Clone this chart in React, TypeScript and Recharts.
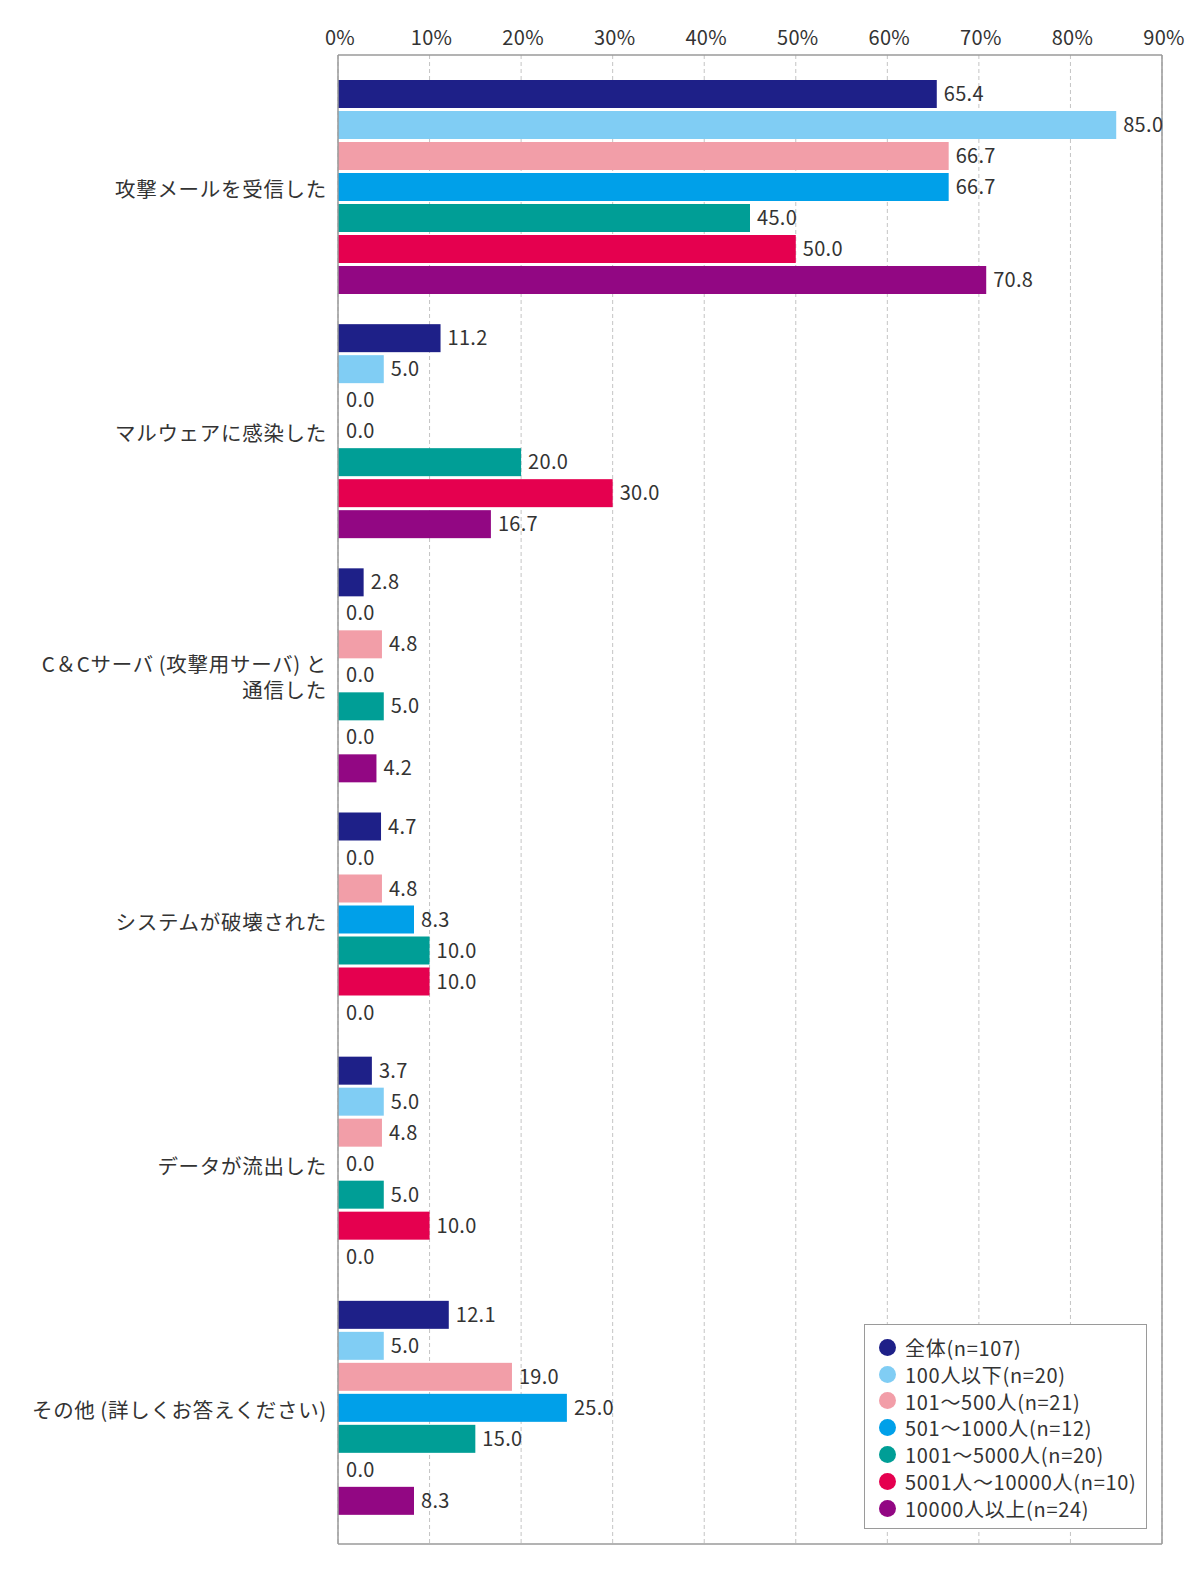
import React from "react";
import {
  BarChart,
  Bar,
  XAxis,
  YAxis,
  CartesianGrid,
  LabelList,
  Legend,
} from "recharts";

const categories = [
  "攻撃メールを受信した",
  "マルウェアに感染した",
  "C＆Cサーバ\u2009(攻撃用サーバ)\u2009と\n通信した",
  "システムが破壊された",
  "データが流出した",
  "その他\u2009(詳しくお答えください)",
];

const seriesNames = [
  "全体(n=107)",
  "100人以下(n=20)",
  "101～500人(n=21)",
  "501～1000人(n=12)",
  "1001～5000人(n=20)",
  "5001人～10000人(n=10)",
  "10000人以上(n=24)",
];

const seriesColors = [
  "#1e2088",
  "#80cdf4",
  "#f29ea8",
  "#00a0e9",
  "#009e96",
  "#e5004f",
  "#920783",
];

const valuesAll = [65.4, 11.2, 2.8, 4.7, 3.7, 12.1];
const values100 = [85.0, 5.0, 0.0, 0.0, 5.0, 5.0];
const values500 = [66.7, 0.0, 4.8, 4.8, 4.8, 19.0];
const values1000 = [66.7, 0.0, 0.0, 8.3, 0.0, 25.0];
const values5000 = [45.0, 20.0, 5.0, 10.0, 5.0, 15.0];
const values10000 = [50.0, 30.0, 0.0, 10.0, 10.0, 0.0];
const valuesOver = [70.8, 16.7, 4.2, 0.0, 0.0, 8.3];

const seriesValues = [
  valuesAll,
  values100,
  values500,
  values1000,
  values5000,
  values10000,
  valuesOver,
];

const xTicks = [0, 10, 20, 30, 40, 50, 60, 70, 80, 90];

const data = categories.map((name, i) => {
  const row: Record<string, number | string> = { name };
  seriesValues.forEach((vals, s) => {
    row[`s${s}`] = vals[i];
  });
  return row;
});

const FONT = '"Noto Sans CJK JP", "Noto Sans", sans-serif';
const TEXT = "#333333";
const BORDER = "#9a9a9a";

const CategoryTick = (props: any) => {
  const { x, y, payload } = props;
  const lines = String(payload.value).split("\n");
  const lh = 26;
  const start = y - ((lines.length - 1) * lh) / 2;
  return (
    <g>
      {lines.map((l, i) => (
        <text
          key={i}
          x={x}
          y={start + i * lh}
          textAnchor="end"
          dominantBaseline="central"
          fill={TEXT}
          fontSize={20.5}
          fontFamily={FONT}
          letterSpacing={0.7}
        >
          {l}
        </text>
      ))}
    </g>
  );
};

const PercentTick = (props: any) => {
  const { x, y, payload } = props;
  return (
    <text
      x={x + 2}
      y={y}
      textAnchor="middle"
      fill={TEXT}
      fontSize={20}
      fontFamily={FONT}
      letterSpacing={0.3}
    >
      {`${payload.value}%`}
    </text>
  );
};

const LegendBox = () => {
  return (
    <div
      style={{
        boxSizing: "border-box",
        width: 283,
        height: 205,
        border: `1.5px solid ${BORDER}`,
        background: "#fff",
        paddingTop: 9,
        fontFamily: FONT,
      }}
    >
      {seriesNames.map((n, i) => (
        <div
          key={n}
          style={{
            display: "flex",
            alignItems: "center",
            height: 26.8,
          }}
        >
          <div
            style={{
              width: 17,
              height: 17,
              borderRadius: "50%",
              background: seriesColors[i],
              marginLeft: 13.5,
              marginRight: 9.5,
              flexShrink: 0,
            }}
          />
          <span
            style={{
              fontSize: 20,
              color: TEXT,
              whiteSpace: "nowrap",
              letterSpacing: 0.7,
            }}
          >
            {n}
          </span>
        </div>
      ))}
    </div>
  );
};

const makeShape = (key: string) => (props: any) => {
  const v = props.payload ? Number(props.payload[key]) : 0;
  if (!(v > 0)) return <g />;
  return (
    <rect
      x={props.x}
      y={props.y}
      width={props.width}
      height={props.height}
      fill={props.fill}
    />
  );
};

export default function App() {
  return (
    <div style={{ width: 1184, height: 1587, fontFamily: FONT, position: "relative" }}>
      <BarChart
        width={1184}
        height={1587}
        data={data}
        layout="vertical"
        margin={{ top: 17, right: 29, bottom: 50, left: 0 }}
        barCategoryGap={14}
        barGap={3}
      >
        <CartesianGrid
          horizontal={false}
          stroke="#c4c4c4"
          strokeDasharray="4 3"
        />
        <XAxis
          type="number"
          orientation="top"
          domain={[0, 90]}
          ticks={xTicks}
          interval={0}
          height={30}
          tickSize={0}
          tickMargin={10}
          tick={<PercentTick />}
          axisLine={{ stroke: BORDER, strokeWidth: 1.5 }}
          tickLine={false}
        />
        <XAxis
          xAxisId="bottom"
          type="number"
          orientation="bottom"
          domain={[0, 90]}
          height={1}
          tick={false}
          tickLine={false}
          axisLine={{ stroke: BORDER, strokeWidth: 1.5 }}
        />
        <YAxis
          type="category"
          dataKey="name"
          width={330}
          tickSize={0}
          tickMargin={11}
          tick={<CategoryTick />}
          tickLine={false}
          interval={0}
          padding={{ top: 11, bottom: 13 }}
          axisLine={{ stroke: BORDER, strokeWidth: 1.5 }}
        />
        <YAxis
          yAxisId="right"
          type="category"
          dataKey="name"
          orientation="right"
          width={1}
          tick={false}
          tickLine={false}
          axisLine={{ stroke: BORDER, strokeWidth: 1.5 }}
        />
        <Legend
          layout="horizontal"
          verticalAlign="middle"
          align="center"
          content={<LegendBox />}
          wrapperStyle={{ position: "absolute", left: 856, top: 1316, width: 283, height: 205 }}
        />
        {seriesNames.map((n, s) => (
          <Bar
            key={n}
            dataKey={`s${s}`}
            name={n}
            fill={seriesColors[s]}
            minPointSize={1}
            shape={makeShape(`s${s}`)}
            isAnimationActive={false}
          >
            <LabelList
              dataKey={`s${s}`}
              position="right"
              offset={7}
              formatter={(v: any) => Number(v).toFixed(1)}
              style={{ fontSize: 20, fill: TEXT, fontFamily: FONT, letterSpacing: 0.3 }}
            />
          </Bar>
        ))}
      </BarChart>
    </div>
  );
}
